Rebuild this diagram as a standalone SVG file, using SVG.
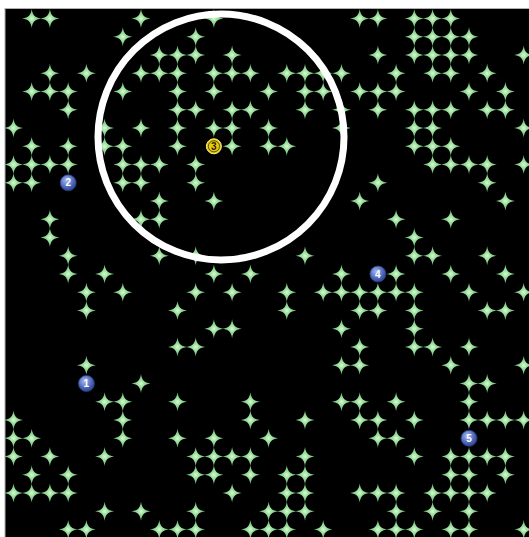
<svg xmlns="http://www.w3.org/2000/svg" xmlns:xlink="http://www.w3.org/1999/xlink" width="529" height="537" viewBox="0 0 529 537">
<style>
.row use{fill:url(#sg)}
.bn{fill:url(#bg);stroke:#2a3f80;stroke-width:0.8}
.nt{font-family:"Liberation Sans",Arial,sans-serif;font-size:10px;font-weight:bold;fill:#fff;text-anchor:middle}
</style>
<defs>
<radialGradient id="sg" cx="0.5" cy="0.5" r="0.5">
<stop offset="0" stop-color="#dcf8dc"/>
<stop offset="0.35" stop-color="#9ce09c"/>
<stop offset="1" stop-color="#6ab87a"/>
</radialGradient>
<radialGradient id="bg" cx="0.4" cy="0.35" r="0.7">
<stop offset="0" stop-color="#a8bcf0"/>
<stop offset="0.6" stop-color="#5068bc"/>
<stop offset="1" stop-color="#2a3f88"/>
</radialGradient>
<path id="s" d="M0,-9.5 C1,-3 3,-1 9.5,0 C3,1 1,3 0,9.5 C-1,3 -3,1 -9.5,0 C-3,-1 -1,-3 0,-9.5Z"/>
</defs>
<rect x="0" y="0" width="529" height="537" fill="#fff"/>
<rect x="5" y="8.5" width="530" height="535" fill="#000" stroke="#b0b0b0" stroke-width="1"/>
<g id="stars">
<g class="row" transform="translate(0,18.5)"><use href="#s" x="31.7"/><use href="#s" x="49.9"/><use href="#s" x="141.0"/><use href="#s" x="213.9"/><use href="#s" x="359.7"/><use href="#s" x="377.9"/><use href="#s" x="414.3"/><use href="#s" x="432.6"/><use href="#s" x="450.8"/></g>
<g class="row" transform="translate(0,36.8)"><use href="#s" x="122.8"/><use href="#s" x="195.7"/><use href="#s" x="414.3"/><use href="#s" x="432.6"/><use href="#s" x="450.8"/><use href="#s" x="469.0"/></g>
<g class="row" transform="translate(0,55.0)"><use href="#s" x="159.3"/><use href="#s" x="177.5"/><use href="#s" x="195.7"/><use href="#s" x="232.1"/><use href="#s" x="377.9"/><use href="#s" x="414.3"/><use href="#s" x="432.6"/><use href="#s" x="450.8"/><use href="#s" x="469.0"/><use href="#s" x="523.7"/></g>
<g class="row" transform="translate(0,73.3)"><use href="#s" x="49.9"/><use href="#s" x="86.4"/><use href="#s" x="141.0"/><use href="#s" x="159.3"/><use href="#s" x="177.5"/><use href="#s" x="213.9"/><use href="#s" x="232.1"/><use href="#s" x="250.4"/><use href="#s" x="286.8"/><use href="#s" x="305.0"/><use href="#s" x="323.2"/><use href="#s" x="341.5"/><use href="#s" x="396.1"/><use href="#s" x="432.6"/><use href="#s" x="450.8"/><use href="#s" x="487.2"/></g>
<g class="row" transform="translate(0,91.5)"><use href="#s" x="31.7"/><use href="#s" x="49.9"/><use href="#s" x="68.2"/><use href="#s" x="122.8"/><use href="#s" x="177.5"/><use href="#s" x="213.9"/><use href="#s" x="268.6"/><use href="#s" x="305.0"/><use href="#s" x="323.2"/><use href="#s" x="359.7"/><use href="#s" x="377.9"/><use href="#s" x="396.1"/><use href="#s" x="469.0"/><use href="#s" x="505.4"/></g>
<g class="row" transform="translate(0,109.8)"><use href="#s" x="68.2"/><use href="#s" x="177.5"/><use href="#s" x="195.7"/><use href="#s" x="232.1"/><use href="#s" x="250.4"/><use href="#s" x="305.0"/><use href="#s" x="341.5"/><use href="#s" x="377.9"/><use href="#s" x="414.3"/><use href="#s" x="432.6"/><use href="#s" x="450.8"/><use href="#s" x="487.2"/><use href="#s" x="505.4"/></g>
<g class="row" transform="translate(0,128.0)"><use href="#s" x="13.5"/><use href="#s" x="104.6"/><use href="#s" x="141.0"/><use href="#s" x="177.5"/><use href="#s" x="213.9"/><use href="#s" x="232.1"/><use href="#s" x="268.6"/><use href="#s" x="341.5"/><use href="#s" x="414.3"/><use href="#s" x="432.6"/><use href="#s" x="523.7"/></g>
<g class="row" transform="translate(0,146.3)"><use href="#s" x="31.7"/><use href="#s" x="68.2"/><use href="#s" x="104.6"/><use href="#s" x="122.8"/><use href="#s" x="177.5"/><use href="#s" x="232.1"/><use href="#s" x="268.6"/><use href="#s" x="286.8"/><use href="#s" x="414.3"/><use href="#s" x="432.6"/><use href="#s" x="450.8"/></g>
<g class="row" transform="translate(0,164.5)"><use href="#s" x="13.5"/><use href="#s" x="31.7"/><use href="#s" x="49.9"/><use href="#s" x="68.2"/><use href="#s" x="122.8"/><use href="#s" x="141.0"/><use href="#s" x="159.3"/><use href="#s" x="195.7"/><use href="#s" x="432.6"/><use href="#s" x="450.8"/><use href="#s" x="469.0"/><use href="#s" x="487.2"/><use href="#s" x="523.7"/></g>
<g class="row" transform="translate(0,182.8)"><use href="#s" x="13.5"/><use href="#s" x="31.7"/><use href="#s" x="122.8"/><use href="#s" x="141.0"/><use href="#s" x="195.7"/><use href="#s" x="377.9"/><use href="#s" x="487.2"/></g>
<g class="row" transform="translate(0,201.0)"><use href="#s" x="159.3"/><use href="#s" x="213.9"/><use href="#s" x="359.7"/><use href="#s" x="505.4"/></g>
<g class="row" transform="translate(0,219.3)"><use href="#s" x="49.9"/><use href="#s" x="141.0"/><use href="#s" x="159.3"/><use href="#s" x="396.1"/><use href="#s" x="450.8"/></g>
<g class="row" transform="translate(0,237.5)"><use href="#s" x="49.9"/><use href="#s" x="414.3"/></g>
<g class="row" transform="translate(0,255.8)"><use href="#s" x="68.2"/><use href="#s" x="159.3"/><use href="#s" x="195.7"/><use href="#s" x="305.0"/><use href="#s" x="414.3"/><use href="#s" x="432.6"/><use href="#s" x="487.2"/></g>
<g class="row" transform="translate(0,274.0)"><use href="#s" x="68.2"/><use href="#s" x="104.6"/><use href="#s" x="213.9"/><use href="#s" x="250.4"/><use href="#s" x="341.5"/><use href="#s" x="396.1"/><use href="#s" x="450.8"/><use href="#s" x="505.4"/></g>
<g class="row" transform="translate(0,292.3)"><use href="#s" x="86.4"/><use href="#s" x="122.8"/><use href="#s" x="195.7"/><use href="#s" x="232.1"/><use href="#s" x="286.8"/><use href="#s" x="323.2"/><use href="#s" x="341.5"/><use href="#s" x="359.7"/><use href="#s" x="377.9"/><use href="#s" x="396.1"/><use href="#s" x="414.3"/><use href="#s" x="469.0"/><use href="#s" x="523.7"/></g>
<g class="row" transform="translate(0,310.5)"><use href="#s" x="86.4"/><use href="#s" x="177.5"/><use href="#s" x="286.8"/><use href="#s" x="359.7"/><use href="#s" x="377.9"/><use href="#s" x="414.3"/><use href="#s" x="487.2"/><use href="#s" x="505.4"/></g>
<g class="row" transform="translate(0,328.8)"><use href="#s" x="213.9"/><use href="#s" x="232.1"/><use href="#s" x="341.5"/><use href="#s" x="414.3"/></g>
<g class="row" transform="translate(0,347.0)"><use href="#s" x="177.5"/><use href="#s" x="195.7"/><use href="#s" x="359.7"/><use href="#s" x="414.3"/><use href="#s" x="432.6"/><use href="#s" x="469.0"/></g>
<g class="row" transform="translate(0,365.3)"><use href="#s" x="86.4"/><use href="#s" x="341.5"/><use href="#s" x="359.7"/><use href="#s" x="450.8"/><use href="#s" x="523.7"/></g>
<g class="row" transform="translate(0,383.5)"><use href="#s" x="141.0"/><use href="#s" x="469.0"/><use href="#s" x="487.2"/></g>
<g class="row" transform="translate(0,401.8)"><use href="#s" x="104.6"/><use href="#s" x="122.8"/><use href="#s" x="177.5"/><use href="#s" x="250.4"/><use href="#s" x="341.5"/><use href="#s" x="359.7"/><use href="#s" x="396.1"/><use href="#s" x="469.0"/></g>
<g class="row" transform="translate(0,420.0)"><use href="#s" x="13.5"/><use href="#s" x="122.8"/><use href="#s" x="250.4"/><use href="#s" x="305.0"/><use href="#s" x="359.7"/><use href="#s" x="377.9"/><use href="#s" x="414.3"/><use href="#s" x="469.0"/><use href="#s" x="487.2"/><use href="#s" x="505.4"/><use href="#s" x="523.7"/></g>
<g class="row" transform="translate(0,438.3)"><use href="#s" x="13.5"/><use href="#s" x="31.7"/><use href="#s" x="122.8"/><use href="#s" x="177.5"/><use href="#s" x="213.9"/><use href="#s" x="268.6"/><use href="#s" x="377.9"/><use href="#s" x="396.1"/></g>
<g class="row" transform="translate(0,456.5)"><use href="#s" x="13.5"/><use href="#s" x="49.9"/><use href="#s" x="104.6"/><use href="#s" x="195.7"/><use href="#s" x="213.9"/><use href="#s" x="232.1"/><use href="#s" x="250.4"/><use href="#s" x="305.0"/><use href="#s" x="414.3"/><use href="#s" x="450.8"/><use href="#s" x="469.0"/><use href="#s" x="487.2"/><use href="#s" x="505.4"/></g>
<g class="row" transform="translate(0,474.8)"><use href="#s" x="31.7"/><use href="#s" x="68.2"/><use href="#s" x="195.7"/><use href="#s" x="213.9"/><use href="#s" x="250.4"/><use href="#s" x="286.8"/><use href="#s" x="305.0"/><use href="#s" x="450.8"/><use href="#s" x="469.0"/><use href="#s" x="505.4"/></g>
<g class="row" transform="translate(0,493.0)"><use href="#s" x="13.5"/><use href="#s" x="31.7"/><use href="#s" x="49.9"/><use href="#s" x="68.2"/><use href="#s" x="232.1"/><use href="#s" x="286.8"/><use href="#s" x="305.0"/><use href="#s" x="359.7"/><use href="#s" x="377.9"/><use href="#s" x="396.1"/><use href="#s" x="432.6"/><use href="#s" x="450.8"/><use href="#s" x="469.0"/><use href="#s" x="487.2"/></g>
<g class="row" transform="translate(0,511.3)"><use href="#s" x="104.6"/><use href="#s" x="141.0"/><use href="#s" x="195.7"/><use href="#s" x="268.6"/><use href="#s" x="286.8"/><use href="#s" x="305.0"/><use href="#s" x="396.1"/><use href="#s" x="432.6"/><use href="#s" x="469.0"/></g>
<g class="row" transform="translate(0,529.5)"><use href="#s" x="68.2"/><use href="#s" x="86.4"/><use href="#s" x="159.3"/><use href="#s" x="177.5"/><use href="#s" x="195.7"/><use href="#s" x="250.4"/><use href="#s" x="268.6"/><use href="#s" x="286.8"/><use href="#s" x="323.2"/><use href="#s" x="377.9"/><use href="#s" x="396.1"/><use href="#s" x="414.3"/><use href="#s" x="450.8"/><use href="#s" x="469.0"/><use href="#s" x="523.7"/></g>
</g>
<circle id="range" cx="221" cy="137" r="123" fill="none" stroke="#fff" stroke-width="7"/>
<g id="node1"><circle class="bn" cx="86.4" cy="383.5" r="8"/><text class="nt" x="86.4" y="387">1</text></g>
<g id="node2"><circle class="bn" cx="68.2" cy="182.8" r="8"/><text class="nt" x="68.2" y="186.3">2</text></g>
<g id="node3"><circle cx="213.9" cy="146.3" r="7.5" fill="#e8cc10" stroke="#fff27a" stroke-width="1"/><circle cx="213.9" cy="146.3" r="5.6" fill="none" stroke="#3a3000" stroke-width="0.8"/><text x="213.9" y="149.8" font-family="Liberation Sans, Arial, sans-serif" font-size="10" font-weight="bold" fill="#2a2200" text-anchor="middle">3</text></g>
<g id="node4"><circle class="bn" cx="377.9" cy="274.0" r="8"/><text class="nt" x="377.9" y="277.5">4</text></g>
<g id="node5"><circle class="bn" cx="469.0" cy="438.3" r="8"/><text class="nt" x="469.0" y="441.8">5</text></g>
</svg>
